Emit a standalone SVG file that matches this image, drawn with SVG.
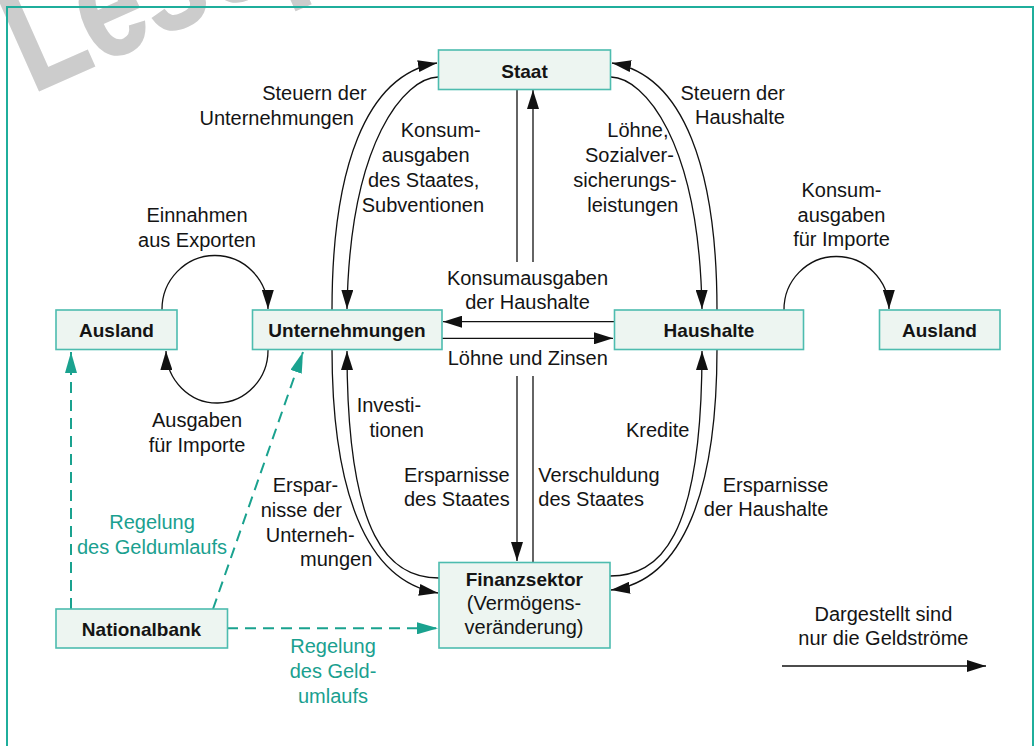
<svg xmlns="http://www.w3.org/2000/svg" width="1036" height="746" viewBox="0 0 1036 746">
  <style>
    text { font-family: "Liberation Sans", Arial, sans-serif; fill: #141414; }
    .lbl { font-size: 20px; }
    .node rect { fill: #edf5f1; stroke: #4dbcaf; stroke-width: 1.6; }
    .node text { font-size: 19px; font-weight: bold; text-anchor: middle; }
    .flow { fill: none; stroke: #111; stroke-width: 1.3; }
    .ctrl { fill: none; stroke: #1aa28f; stroke-width: 2; stroke-dasharray: 11 7; }
    .teal { fill: #1aa08f; }
    .mid { text-anchor: middle; }
    .end { text-anchor: end; }
  </style>
  <defs>
    <marker id="ah" markerUnits="userSpaceOnUse" markerWidth="20" markerHeight="12" refX="19" refY="6" orient="auto">
      <path d="M0,0 L19,6 L0,12 z" fill="#111"/>
    </marker>
    <marker id="ahTeal" markerUnits="userSpaceOnUse" markerWidth="22" markerHeight="12" refX="21" refY="6" orient="auto">
      <path d="M0,0 L21,6 L0,12 z" fill="#1aa28f"/>
    </marker>
  </defs>

  <rect width="1036" height="746" fill="#ffffff"/>

  <!-- sample watermark (condensed, runs off the top edge) -->
  <text x="0" y="0" transform="translate(32.2,93.5) rotate(-24) scale(0.78,1)" style="font-size:150px;font-weight:bold;fill:#cccccc;stroke:#cccccc;stroke-width:2">Leseprobe</text>

  <!-- outer frame -->
  <rect x="7" y="7" width="1026" height="760" fill="none" stroke="#1fae9c" stroke-width="2"/>

  <g id="connectors">
    <!-- Staat / Unternehmungen -->
    <path class="flow" d="M332,310 C332,170 365,75 437,63" marker-end="url(#ah)"/>
    <path class="flow" d="M438,77 C405,78 350,140 347,309" marker-end="url(#ah)"/>
    <!-- Staat / Haushalte -->
    <path class="flow" d="M717,310 C717,170 684,75 612,63" marker-end="url(#ah)"/>
    <path class="flow" d="M611,77 C644,78 699,140 702,309" marker-end="url(#ah)"/>
    <!-- Unternehmungen / Finanzsektor -->
    <path class="flow" d="M332,349 C332,489 365,581 438,593" marker-end="url(#ah)"/>
    <path class="flow" d="M439,578 C390,578 347,540 347,351" marker-end="url(#ah)"/>
    <!-- Haushalte / Finanzsektor -->
    <path class="flow" d="M717,349 C717,489 684,581 611,590" marker-end="url(#ah)"/>
    <path class="flow" d="M610,576 C659,576 702,540 702,351" marker-end="url(#ah)"/>
    <!-- Staat / Finanzsektor (interrupted by the middle labels) -->
    <path class="flow" d="M517,89 V262"/>
    <path class="flow" d="M517,376 V561" marker-end="url(#ah)"/>
    <path class="flow" d="M533,562 V376"/>
    <path class="flow" d="M533,262 V90" marker-end="url(#ah)"/>
    <!-- Haushalte / Unternehmungen -->
    <path class="flow" d="M614,321.7 H443" marker-end="url(#ah)"/>
    <path class="flow" d="M442,338.3 H613" marker-end="url(#ah)"/>
    <!-- Ausland / Unternehmungen -->
    <path class="flow" d="M162,310 A53,54 0 0 1 268,309" marker-end="url(#ah)"/>
    <path class="flow" d="M268,349 A51,53 0 0 1 166,351" marker-end="url(#ah)"/>
    <!-- Haushalte / Ausland -->
    <path class="flow" d="M784,310 A52.5,53 0 0 1 889,309" marker-end="url(#ah)"/>
    <!-- Nationalbank controls -->
    <path class="ctrl" d="M71,609 V352" marker-end="url(#ahTeal)"/>
    <path class="ctrl" d="M213,609 L303,352" marker-end="url(#ahTeal)"/>
    <path class="ctrl" d="M227,628.3 H438" marker-end="url(#ahTeal)"/>
    <!-- legend arrow -->
    <path class="flow" d="M782,666 H986" marker-end="url(#ah)"/>
  </g>

  <g id="labels" class="lbl">
    <text class="end"><tspan x="366.7" y="100">Steuern der</tspan><tspan x="354" y="124.5">Unternehmungen</tspan></text>
    <text><tspan x="400.7" y="137">Konsum-</tspan><tspan x="381.7" y="162">ausgaben</tspan><tspan x="368" y="187">des Staates,</tspan><tspan x="361.7" y="212">Subventionen</tspan></text>
    <text class="end"><tspan x="785" y="100">Steuern der</tspan><tspan x="785" y="124">Haushalte</tspan></text>
    <text><tspan x="607.3" y="137">Löhne,</tspan><tspan x="585" y="162">Sozialver-</tspan><tspan x="573.3" y="187">sicherungs-</tspan><tspan x="587.3" y="212">leistungen</tspan></text>
    <text class="mid"><tspan x="841.5" y="197">Konsum-</tspan><tspan x="841.5" y="221.5">ausgaben</tspan><tspan x="841.5" y="246">für Importe</tspan></text>
    <text class="mid"><tspan x="197" y="221.7">Einnahmen</tspan><tspan x="197" y="246.5">aus Exporten</tspan></text>
    <text class="mid"><tspan x="197" y="427.3">Ausgaben</tspan><tspan x="197" y="451.7">für Importe</tspan></text>
    <text class="mid"><tspan x="527.5" y="285">Konsumausgaben</tspan><tspan x="527.5" y="309.3">der Haushalte</tspan></text>
    <text class="mid" x="527.8" y="365">Löhne und Zinsen</text>
    <text><tspan x="356.7" y="411.7">Investi-</tspan><tspan x="369.5" y="436.7">tionen</tspan></text>
    <text x="626" y="436.7">Kredite</text>
    <text><tspan x="404" y="481.7">Ersparnisse</tspan><tspan x="404" y="505.7">des Staates</tspan></text>
    <text><tspan x="538.3" y="481.7">Verschuldung</tspan><tspan x="538.3" y="505.7">des Staates</tspan></text>
    <text class="end"><tspan x="828.3" y="491.7">Ersparnisse</tspan><tspan x="828.3" y="516">der Haushalte</tspan></text>
    <text><tspan x="272.7" y="491.7">Erspar-</tspan><tspan x="260.7" y="516.7">nisse der</tspan><tspan x="265.7" y="541.7">Unterneh-</tspan><tspan x="300" y="566">mungen</tspan></text>
    <text class="mid teal"><tspan x="152" y="529.3">Regelung</tspan><tspan x="152" y="553.5">des Geldumlaufs</tspan></text>
    <text class="mid teal"><tspan x="333" y="653.3">Regelung</tspan><tspan x="333" y="678.3">des Geld-</tspan><tspan x="333" y="703.3">umlaufs</tspan></text>
    <text class="mid"><tspan x="883.4" y="620.7">Dargestellt sind</tspan><tspan x="883.4" y="645">nur die Geldströme</tspan></text>
  </g>

  <g id="staat" class="node">
    <rect x="438.5" y="50" width="172" height="39.5"/>
    <text x="524.5" y="77.5">Staat</text>
  </g>
  <g id="ausland-links" class="node">
    <rect x="56" y="310" width="121" height="39.5"/>
    <text x="116.5" y="336.7">Ausland</text>
  </g>
  <g id="unternehmungen" class="node">
    <rect x="252.5" y="310" width="189.5" height="39.5"/>
    <text x="347" y="336.7">Unternehmungen</text>
  </g>
  <g id="haushalte" class="node">
    <rect x="614.5" y="310" width="189" height="39.5"/>
    <text x="709" y="336.7">Haushalte</text>
  </g>
  <g id="ausland-rechts" class="node">
    <rect x="879.5" y="310" width="120.5" height="39.5"/>
    <text x="939.5" y="336.5">Ausland</text>
  </g>
  <g id="nationalbank" class="node">
    <rect x="56" y="609" width="171.5" height="39"/>
    <text x="141.5" y="635.5">Nationalbank</text>
  </g>
  <g id="finanzsektor" class="node">
    <rect x="439" y="562.5" width="171" height="85.5"/>
    <text x="524.3" y="586">Finanzsektor</text>
    <text x="524" y="610" style="font-weight:normal;font-size:20px">(Vermögens-</text>
    <text x="524" y="634" style="font-weight:normal;font-size:20px">veränderung)</text>
  </g>
</svg>
